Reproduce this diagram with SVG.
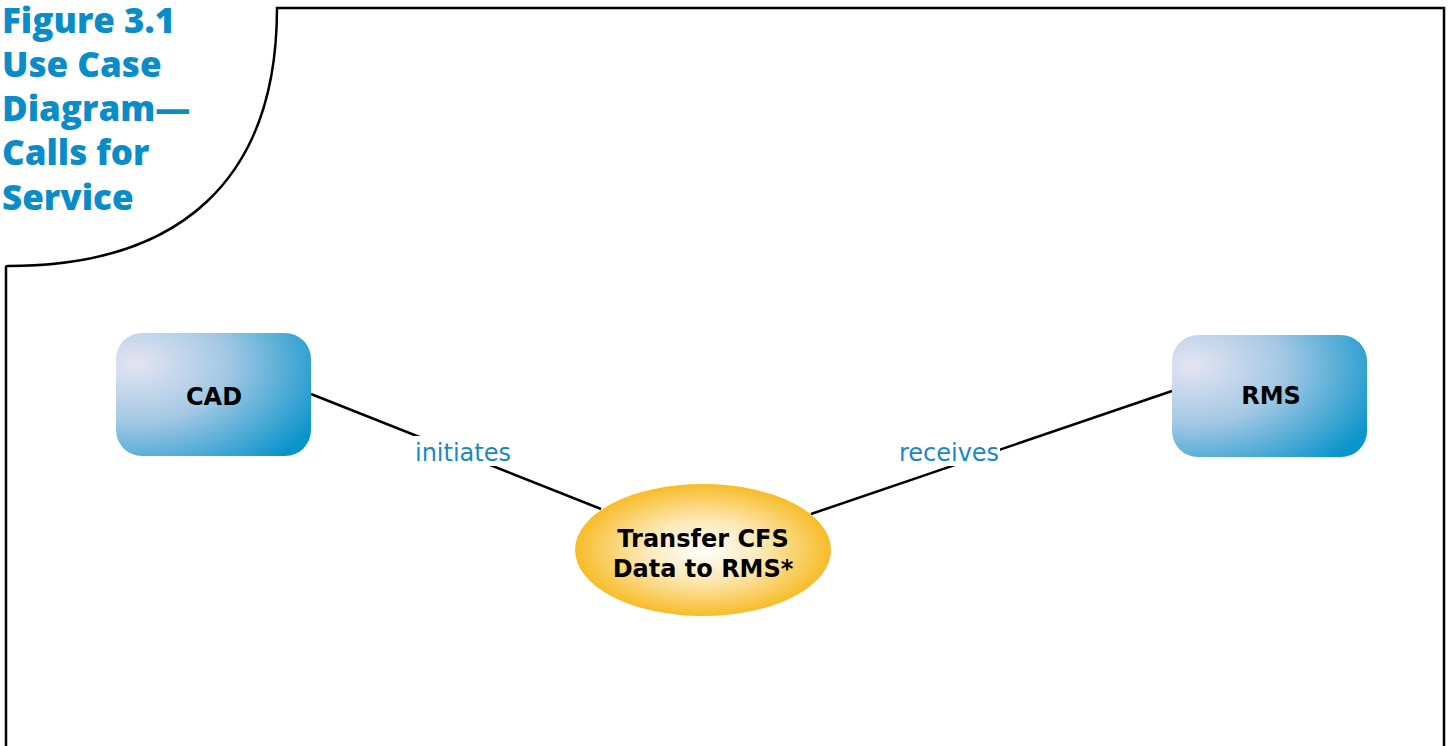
<svg xmlns="http://www.w3.org/2000/svg" width="1453" height="746" viewBox="0 0 1453 746">
<defs>
<radialGradient id="actorGrad" cx="0.1" cy="0.25" r="1.05" fx="0.1" fy="0.25">
<stop offset="0" stop-color="#e4e4f2"/>
<stop offset="0.45" stop-color="#a4c8e4"/>
<stop offset="1" stop-color="#0a94cb"/>
</radialGradient>
<radialGradient id="ucGrad" cx="0.5" cy="0.5" r="0.5">
<stop offset="0" stop-color="#ffffff"/>
<stop offset="0.45" stop-color="#fde9b8"/>
<stop offset="1" stop-color="#f7bc28"/>
</radialGradient>
<style>
.title{font-family:"Open Sans",Lato,sans-serif;font-weight:800;font-size:35px;fill:#0a8cc8}
.frame{fill:none;stroke:#000;stroke-width:2.5}
.actor{fill:url(#actorGrad);stroke:none}
.uc{fill:url(#ucGrad);stroke:none}
.nlabel{font-family:"DejaVu Sans",Verdana,sans-serif;font-weight:bold;font-size:24px;fill:#000;text-anchor:middle}
.conn{stroke:#000;stroke-width:2.5;fill:none}
.clabel{font-family:"DejaVu Sans",Verdana,sans-serif;font-size:24px;fill:#1a88c4;text-anchor:middle}
.lblbg{fill:#fff}
</style>
</defs>
<rect width="1453" height="746" fill="#fff"/>
<g id="frame">
<path class="frame" d="M 6 746 L 6 267 Q 6 266 8 266 C 180 266 277 180 277 8 L 1444 8 L 1444 746"/>
</g>
<g id="title">
<text class="title" x="2" y="33">Figure 3.1</text>
<text class="title" x="2" y="77">Use Case</text>
<text class="title" x="2" y="121">Diagram—</text>
<text class="title" x="2" y="165">Calls for</text>
<text class="title" x="2" y="210">Service</text>
</g>
<g id="connectors">
<line class="conn" x1="311" y1="394" x2="601" y2="509"/>
<line class="conn" x1="1172" y1="391" x2="811" y2="514"/>
<rect class="lblbg" x="414" y="436" width="98" height="30"/>
<text class="clabel" x="463" y="461">initiates</text>
<rect class="lblbg" x="898" y="436" width="102" height="30"/>
<text class="clabel" x="949" y="461">receives</text>
</g>
<g id="node-cad">
<rect class="actor" x="116" y="333" width="195" height="123" rx="26"/>
<text class="nlabel" x="214" y="405">CAD</text>
</g>
<g id="node-rms">
<rect class="actor" x="1172" y="335" width="195" height="122" rx="26"/>
<text class="nlabel" x="1271" y="404">RMS</text>
</g>
<g id="node-usecase">
<ellipse class="uc" cx="703" cy="550" rx="128" ry="66"/>
<text class="nlabel" x="703" y="547">Transfer CFS</text>
<text class="nlabel" x="703" y="577">Data to RMS*</text>
</g>
</svg>
